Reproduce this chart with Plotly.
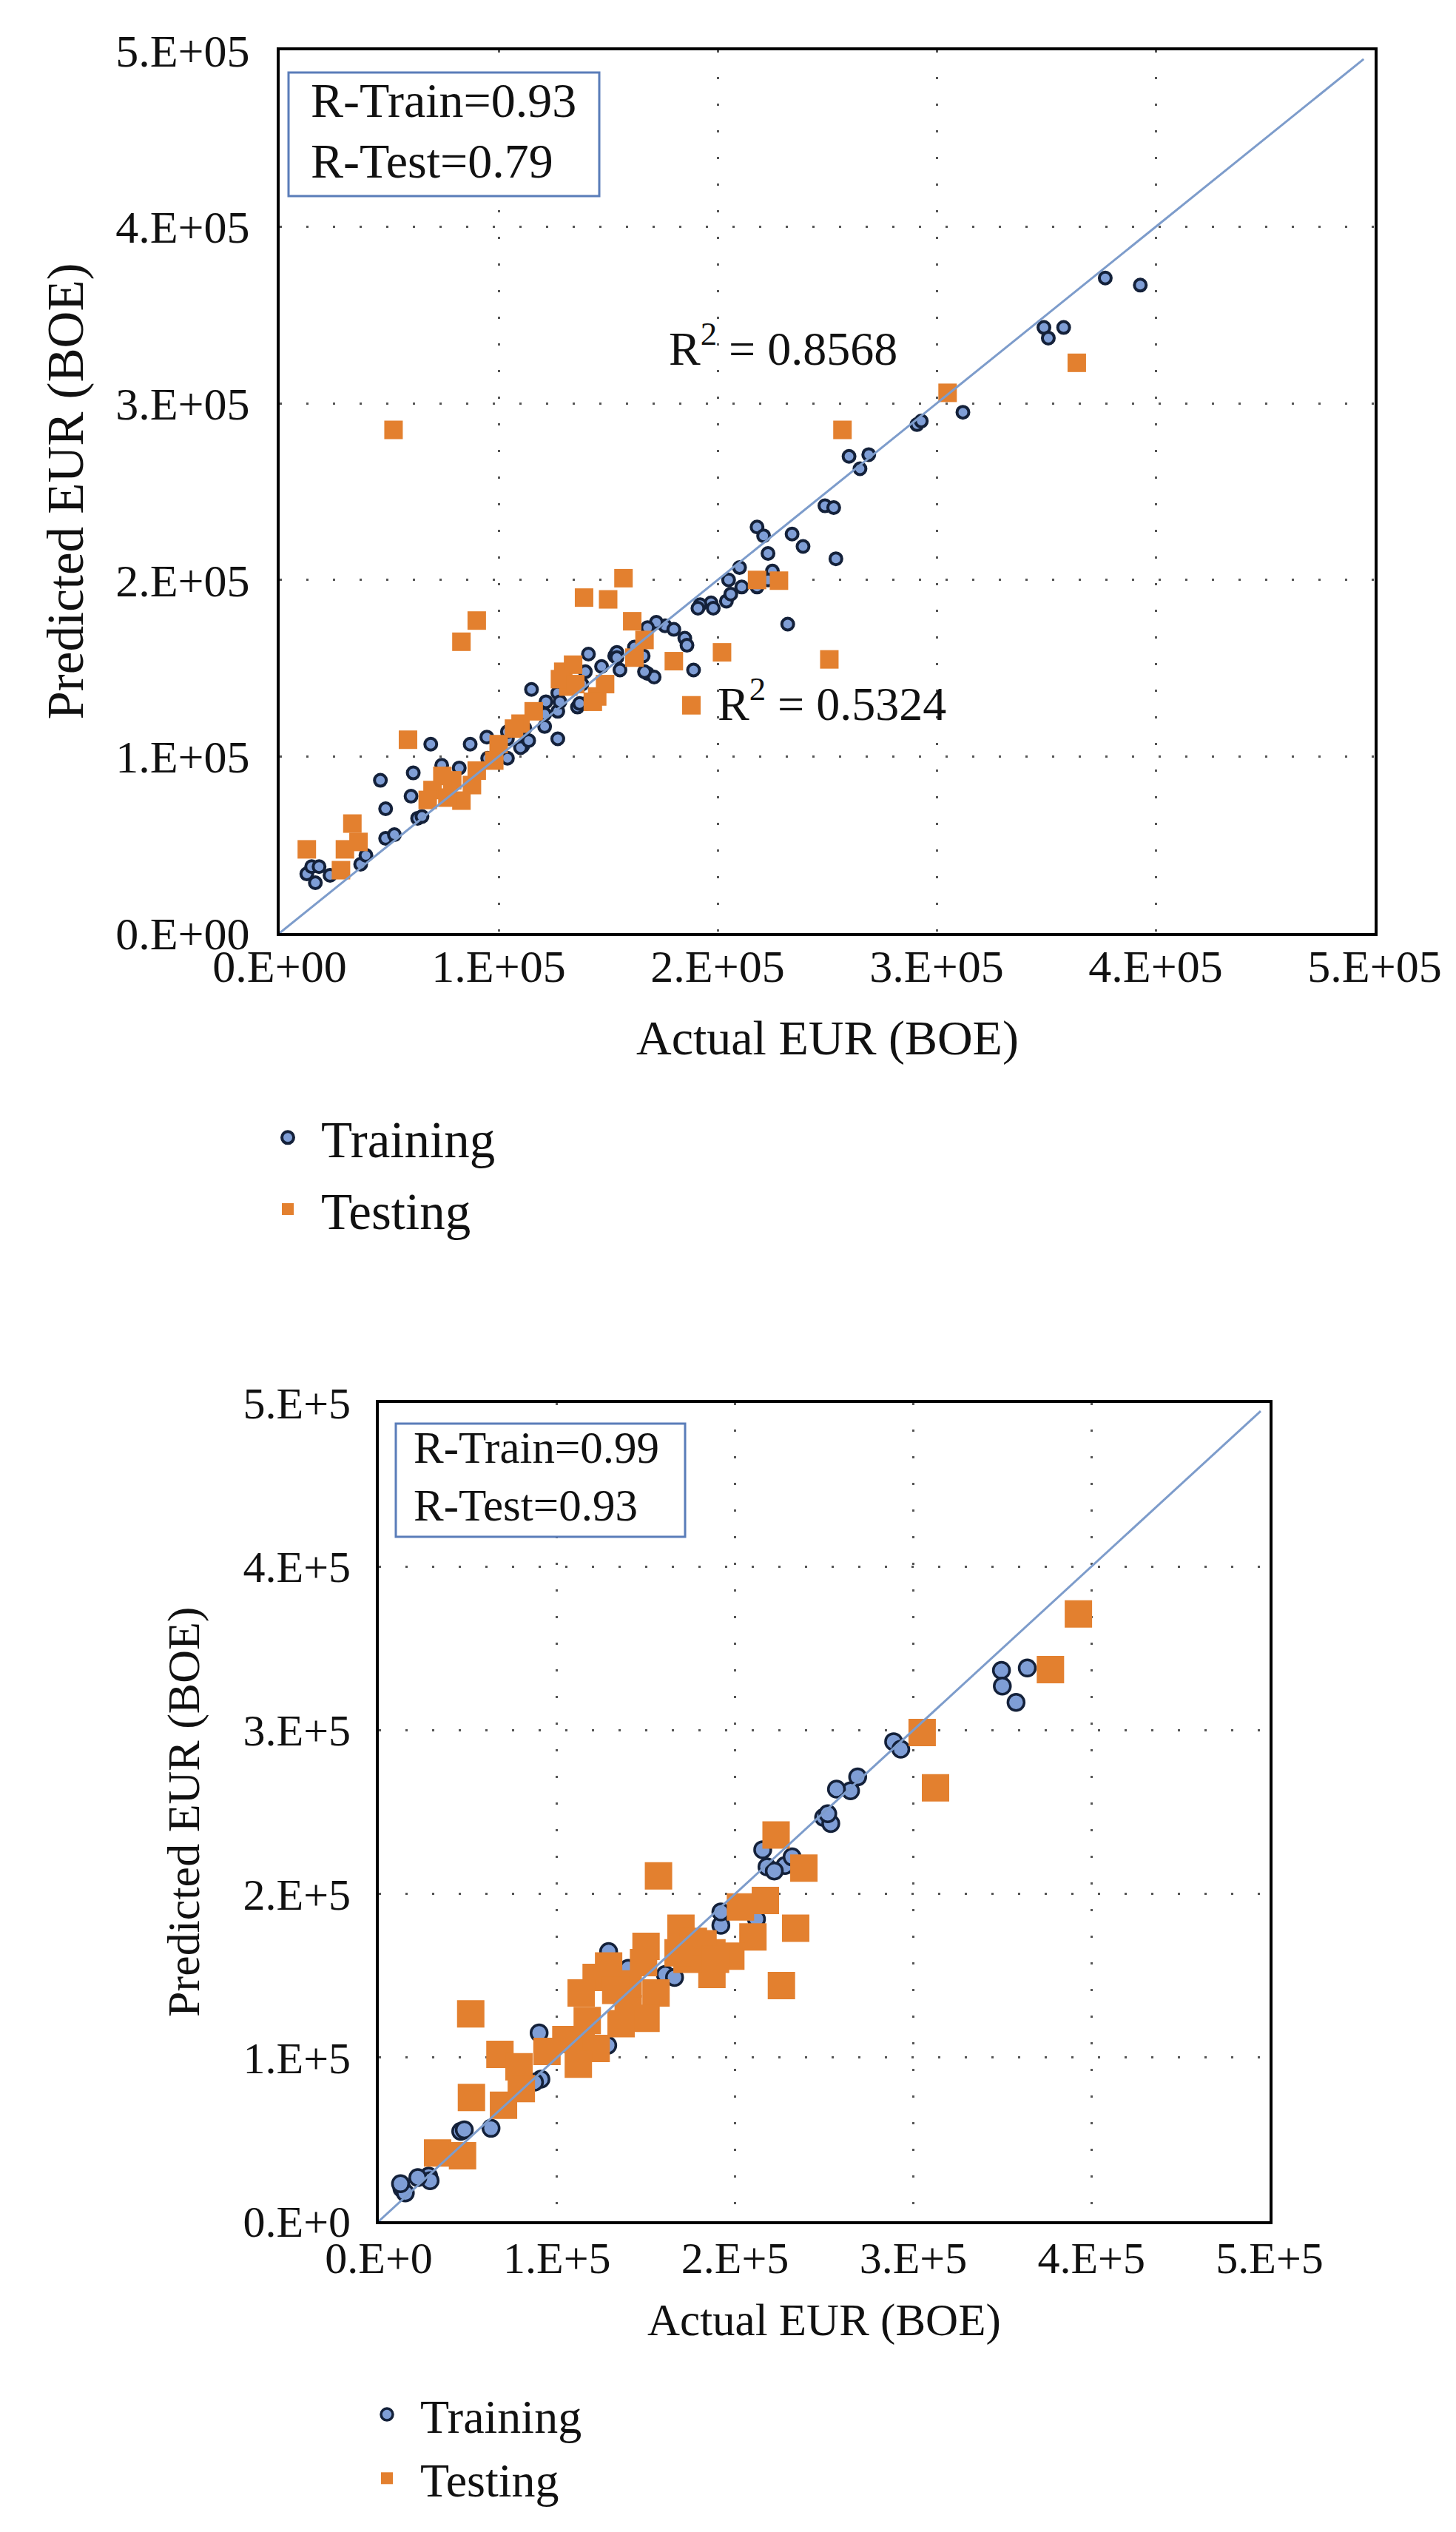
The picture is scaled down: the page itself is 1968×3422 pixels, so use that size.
# EUR cross-plots: predicted vs actual for two models (train / test).
import plotly.graph_objects as go

W, H = 1968, 3422
FONT = "Liberation Serif"

# ---- data (BOE) ----
tick_vals = [0, 100000, 200000, 300000, 400000, 500000]
tick_text_top = ["0.E+00", "1.E+05", "2.E+05", "3.E+05", "4.E+05", "5.E+05"]
tick_text_bottom = ["0.E+0", "1.E+5", "2.E+5", "3.E+5", "4.E+5", "5.E+5"]

# top chart
train1_actual = [377000, 393000, 349000, 351000, 358000, 291000, 293000, 312000, 260000, 269000,
                 265000, 249000, 253000, 254000, 218000, 221000, 234000, 239000, 223000, 225000,
                 232000, 218000, 223000, 211000, 205000, 204000, 197000, 192000, 198000, 191000,
                 206000, 210000, 176000, 180000, 172000, 168000, 185000, 186000, 189000, 168000,
                 171000, 166000, 153000, 154000, 141000, 147000, 138000, 136000, 140000, 127000,
                 127000, 121000, 115000, 112000, 111000, 104000, 110000, 95000, 104000, 69000,
                 12400, 14600, 18000, 16300, 23000, 37000, 39400, 48400, 52400, 46000,
                 48400, 61000, 60000, 63000, 65000, 87000, 94600, 82000, 74000, 78500,
                 121600, 127000, 128000, 113700, 121000, 104000, 154000, 155400, 166600, 137000,
                 139600, 162000]
train1_pred = [371000, 367000, 343000, 337000, 343000, 288000, 290000, 295000, 270000, 271000,
               263000, 242000, 241000, 212000, 230000, 225000, 226000, 219000, 215000, 205000,
               175000, 196000, 200000, 196000, 200000, 188000, 187000, 186000, 184000, 184000,
               192000, 207000, 174000, 172000, 176000, 173000, 167000, 163000, 149000, 147000,
               145000, 157000, 157000, 159000, 158000, 151000, 141000, 128000, 130000, 110000,
               136000, 124000, 138000, 116000, 106000, 110000, 105000, 99000, 99000, 107000,
               33500, 37600, 37600, 28500, 32700, 39000, 44000, 53600, 55700, 86500,
               70400, 90700, 77500, 65000, 66000, 107000, 111000, 93500, 95000, 87000,
               131000, 125600, 131000, 109000, 117000, 114000, 156000, 149000, 148000, 130000,
               148000, 162000]
test1_actual = [52000, 257000, 305000, 364000, 157000, 139000, 150000, 90000, 83000, 161000,
                218000, 228000, 202000, 180000, 251000, 188000, 166600, 162000, 129500, 134000,
                131800, 128000, 135000, 145000, 148600, 143000, 116000, 110000, 107000, 100000,
                98000, 90000, 87800, 83000, 78800, 74300, 69800, 67600, 76600, 58600,
                12400, 33200, 36000, 29800, 28000]
test1_pred = [285000, 285000, 306000, 323000, 201000, 190000, 189000, 177000, 165000, 176600,
              200000, 199600, 159000, 154000, 155000, 129000, 166000, 156000, 148000, 152000,
              139600, 143800, 141000, 134000, 141000, 131000, 125600, 118600, 115800, 107000,
              97700, 92000, 83800, 75000, 86500, 89000, 81000, 75400, 76700, 109500,
              47400, 62000, 51600, 47400, 35600]

# bottom chart
train2_actual = [349500, 350000, 357700, 364000, 289000, 293000, 268800, 264800, 256900, 249700,
                 253700, 252000, 217900, 228000, 215500, 232000, 222000, 192000, 192000, 212000,
                 129000, 140000, 140000, 141600, 160800, 166000, 128500, 90000, 91000, 87400,
                 63000, 46000, 48000, 28000, 28800, 21900, 13000, 14900, 12200]
train2_pred = [336600, 327000, 317000, 338000, 293000, 288400, 271500, 263000, 264000, 246700,
               243000, 249000, 216500, 217300, 227000, 222600, 214000, 180800, 189000, 184600,
               164800, 154500, 147000, 137600, 150800, 149000, 107500, 115000, 86800, 85000,
               56800, 54900, 55800, 27600, 24800, 26700, 20000, 17300, 22900]
test2_actual = [392700, 377000, 305000, 312500, 223000, 238600, 234000, 226000, 217000, 203000,
                210000, 197600, 187000, 187000, 182000, 169600, 173000, 176600, 168000, 157000,
                155600, 150000, 148600, 150000, 140000, 136000, 129000, 122000, 113600, 117000,
                113600, 122000, 112000, 105000, 94400, 68000, 78700, 80000, 52000, 70000,
                51600, 33000, 47000, 140000, 133000, 189000]
test2_pred = [371000, 337000, 298600, 264800, 236000, 215800, 179000, 144000, 196000, 192000,
              173700, 162000, 150800, 164000, 169500, 179000, 160000, 171000, 164000, 211000,
              139500, 168000, 158000, 124000, 130000, 120700, 156000, 149000, 139500, 122600,
              107500, 105600, 96000, 111000, 103800, 101900, 94400, 81000, 75600, 70900,
              126700, 41700, 40000, 145000, 141000, 160000]

diag = [0, 495000]

ORANGE = "#E3802F"
BLUE_FILL = "#7F9ED6"
NAVY = "#14213A"
LINE_BLUE = "#7D9CCB"
BOX_BLUE = "#5A7DB9"


def px(x):
    return x / W


def py(y):
    return 1 - y / H


# plot areas in pixels (left, top, right, bottom)
top_box = (370, 60, 1850, 1253)
bot_box = (504, 1888, 1708, 2994)

fig = go.Figure()

# top chart traces
fig.add_trace(go.Scatter(x=train1_actual, y=train1_pred, mode="markers", name="Training",
                         marker=dict(symbol="circle", size=16, color=BLUE_FILL,
                                     line=dict(color=NAVY, width=4)),
                         legendgroup="tr1", legend="legend"))
fig.add_trace(go.Scatter(x=test1_actual, y=test1_pred, mode="markers", name="Testing",
                         marker=dict(symbol="square", size=25, color=ORANGE),
                         legendgroup="te1", legend="legend"))
fig.add_trace(go.Scatter(x=diag, y=diag, mode="lines", showlegend=False,
                         line=dict(color=LINE_BLUE, width=3), hoverinfo="skip"))

# bottom chart traces
fig.add_trace(go.Scatter(x=train2_actual, y=train2_pred, mode="markers", name="Training",
                         marker=dict(symbol="circle", size=22, color=BLUE_FILL,
                                     line=dict(color=NAVY, width=3.5)),
                         legendgroup="tr2", legend="legend2", xaxis="x2", yaxis="y2"))
fig.add_trace(go.Scatter(x=test2_actual, y=test2_pred, mode="markers", name="Testing",
                         marker=dict(symbol="square", size=37, color=ORANGE),
                         legendgroup="te2", legend="legend2", xaxis="x2", yaxis="y2"))
fig.add_trace(go.Scatter(x=diag, y=diag, mode="lines", showlegend=False,
                         line=dict(color=LINE_BLUE, width=3), hoverinfo="skip",
                         xaxis="x2", yaxis="y2"))

axis_common = dict(range=[0, 500000], tickvals=tick_vals, showgrid=True,
                   gridcolor="#555555", griddash="3px,33px", gridwidth=3,
                   showline=True, linecolor="black", linewidth=4, mirror=True,
                   zeroline=False, ticks="", ticklen=0, fixedrange=True, automargin=False)

fig.update_layout(
    width=W, height=H,
    margin=dict(l=0, r=0, t=0, b=0, autoexpand=False),
    paper_bgcolor="white", plot_bgcolor="white",
    font=dict(family=FONT, color="#111111"),
    xaxis=dict(axis_common, domain=[px(top_box[0]), px(top_box[2])], anchor="y",
               ticktext=tick_text_top, tickfont=dict(size=62), ticklabelstandoff=-12),
    yaxis=dict(axis_common, domain=[py(top_box[3]), py(top_box[1])], anchor="x",
               ticktext=tick_text_top, tickfont=dict(size=62), ticklabelstandoff=24),
    xaxis2=dict(axis_common, domain=[px(bot_box[0]), px(bot_box[2])], anchor="y2",
                ticktext=tick_text_bottom, tickfont=dict(size=60), ticklabelstandoff=-6),
    yaxis2=dict(axis_common, domain=[py(bot_box[3]), py(bot_box[1])], anchor="x2",
                ticktext=tick_text_bottom, tickfont=dict(size=60), ticklabelstandoff=22),
    legend=dict(x=px(336), y=py(1478), xanchor="left", yanchor="top",
                font=dict(family=FONT, size=69), itemwidth=80, tracegroupgap=4,
                bgcolor="rgba(0,0,0,0)", itemsizing="trace"),
    legend2=dict(x=px(470), y=py(3207), xanchor="left", yanchor="top",
                 font=dict(family=FONT, size=64), itemwidth=80, tracegroupgap=0,
                 bgcolor="rgba(0,0,0,0)", itemsizing="trace"),
)

# axis titles
titles = [
    ("Actual EUR (BOE)", (top_box[0] + top_box[2]) / 2, 1395, 0, 66),
    ("Predicted EUR (BOE)", 80, (top_box[1] + top_box[3]) / 2, -90, 69),
    ("Actual EUR (BOE)", (bot_box[0] + bot_box[2]) / 2, 3128, 0, 61),
    ("Predicted EUR (BOE)", 240, (bot_box[1] + bot_box[3]) / 2, -90, 62),
]
for text, x, y, angle, size in titles:
    fig.add_annotation(text=text, x=px(x), y=py(y), xref="paper", yref="paper",
                       showarrow=False, textangle=angle, xanchor="center", yanchor="middle",
                       font=dict(family=FONT, size=size, color="#111111"))

# R boxes
fig.add_shape(type="rect", xref="paper", yref="paper", x0=px(382), x1=px(802),
              y0=py(257), y1=py(90), line=dict(color=BOX_BLUE, width=3), fillcolor="white")
fig.add_shape(type="rect", xref="paper", yref="paper", x0=px(527), x1=px(918),
              y0=py(2069), y1=py(1916), line=dict(color=BOX_BLUE, width=3), fillcolor="white")
stats = [
    ("R-Train=0.93", 410, 127, 66),
    ("R-Test=0.79", 410, 210, 66),
    ("R-Train=0.99", 549, 1949, 61),
    ("R-Test=0.93", 549, 2026, 61),
]
for text, x, y, size in stats:
    fig.add_annotation(text=text, x=px(x), y=py(y), xref="paper", yref="paper",
                       showarrow=False, xanchor="left", yanchor="middle",
                       font=dict(family=FONT, size=size, color="#111111"))

# R^2 labels on the top chart
for text, x, y in [("R<sup>2</sup> = 0.8568", 894, 458), ("R<sup>2</sup> = 0.5324", 960, 938)]:
    fig.add_annotation(text=text, x=px(x), y=py(y), xref="paper", yref="paper",
                       showarrow=False, xanchor="left", yanchor="middle",
                       font=dict(family=FONT, size=64, color="#111111"))

fig.write_html("out.html")
